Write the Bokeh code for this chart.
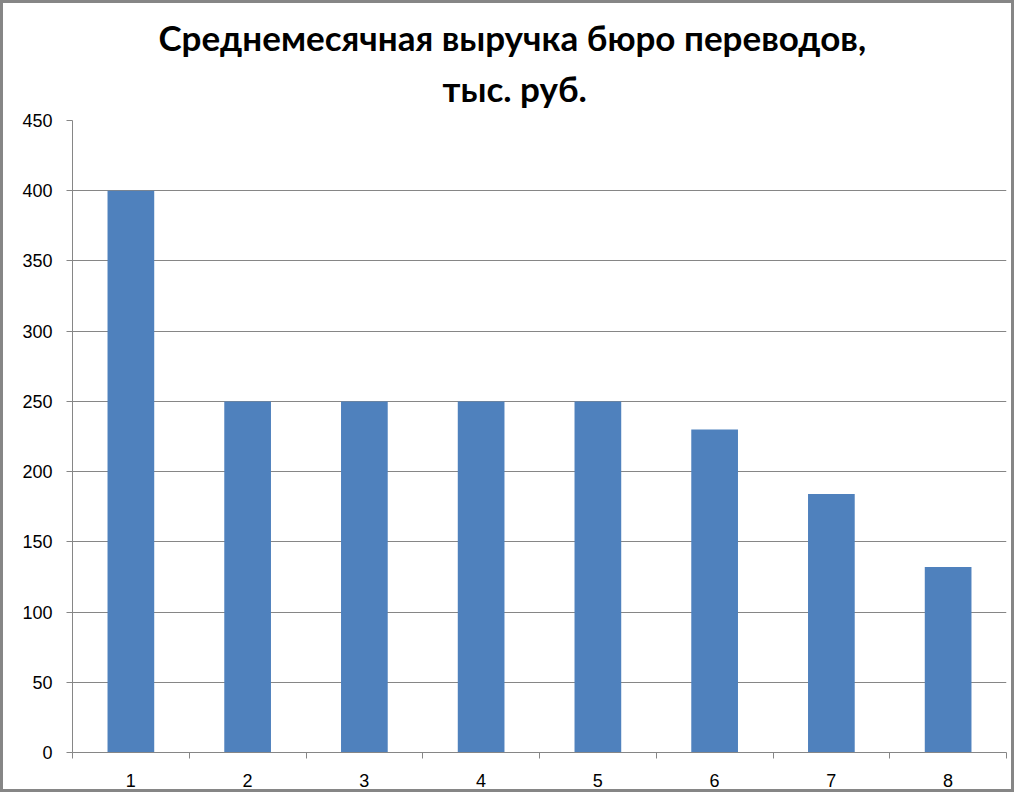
from bokeh.plotting import figure
from bokeh.models import FixedTicker, ColumnDataSource, Range1d, Title
from bokeh.layouts import column
from bokeh.embed import file_html
from bokeh.resources import INLINE

categories = [1, 2, 3, 4, 5, 6, 7, 8]
values = [400, 250, 250, 250, 250, 230, 184, 132]
y_ticks = [0, 50, 100, 150, 200, 250, 300, 350, 400, 450]
title_line1 = "Среднемесячная выручка бюро переводов,"
title_line2 = "тыс. руб."

src = ColumnDataSource(data=dict(x=categories, top=values))

p = figure(width=1008, height=786, output_backend="svg", toolbar_location=None,
           x_range=Range1d(0.5, 8.5), y_range=Range1d(0, 450),
           min_border_left=69, min_border_top=117, min_border_right=5, min_border_bottom=35)
p.outline_line_color = None
p.background_fill_color = "white"
p.border_fill_color = "white"
p.title = None

t2 = Title(text=title_line2, align="left", text_font="Lato", text_font_style="bold",
           text_font_size="35px", text_color="black", offset=370, standoff=23)
t1 = Title(text=title_line1, align="left", text_font="Lato", text_font_style="bold",
           text_font_size="35px", text_color="black", offset=86, standoff=-8)
p.add_layout(t2, "above")
p.add_layout(t1, "above")

p.vbar(x="x", top="top", width=0.4, source=src, color="#4F81BD", line_color=None)

gray = "#868686"
p.ygrid.grid_line_color = gray
p.ygrid.grid_line_width = 1
p.xgrid.grid_line_color = None
p.yaxis.ticker = FixedTicker(ticks=y_ticks)
p.yaxis.axis_line_color = gray
p.yaxis.major_tick_line_color = gray
p.yaxis.major_tick_out = 6
p.yaxis.major_tick_in = 0
p.yaxis.minor_tick_line_color = None
p.yaxis.major_label_text_font = "Liberation Sans"
p.yaxis.major_label_text_font_size = "18px"
p.yaxis.major_label_text_color = "black"
p.yaxis.major_label_standoff = 14

p.xaxis.ticker = FixedTicker(ticks=categories, minor_ticks=[c - 0.5 for c in categories] + [8.5])
p.xaxis.axis_line_color = gray
p.xaxis.major_tick_line_color = None
p.xaxis.major_tick_out = 0
p.xaxis.major_tick_in = 0
p.xaxis.minor_tick_line_color = gray
p.xaxis.minor_tick_out = 6
p.xaxis.minor_tick_in = 0
p.xaxis.major_label_text_font = "Liberation Sans"
p.xaxis.major_label_text_font_size = "18px"
p.xaxis.major_label_text_color = "black"
p.xaxis.major_label_standoff = 15

layout = column(p, styles={"border": "3px solid #868686"})

open("out.html", "w").write(file_html(layout, INLINE))
